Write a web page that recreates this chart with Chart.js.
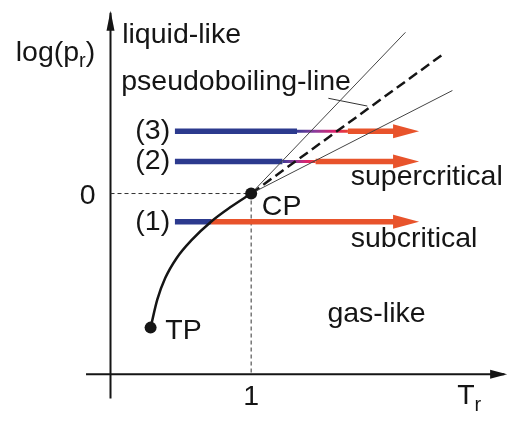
<!DOCTYPE html>
<html>
<head>
<meta charset="utf-8">
<script src="https://cdn.jsdelivr.net/npm/chart.js@4.4.1/dist/chart.umd.min.js"></script>
<style>
  html, body { margin: 0; padding: 0; background: #fff; }
  #phase { display: block; }
</style>
</head>
<body>
<canvas id="phase" width="515" height="423"></canvas>
<script>
// x = reduced temperature T_r, y = log(p_r)
const triplePoint = [0.285, -0.742];
const criticalPoint = [1, 0];

// vapour pressure curve, TP -> CP
const curveT = [0.285, 0.333, 0.389, 0.472, 0.576, 0.715, 0.854, 1.0];
const curveP = [-0.742, -0.586, -0.468, -0.355, -0.258, -0.156, -0.075, 0];

// lines leaving CP (end points)
const upperLineEnd = [2.097, 0.892];
const pseudoboilingEnd = [2.361, 0.769];
const lowerLineEnd = [2.431, 0.570];
const pointerT = [1.549, 1.826];
const pointerP = [0.527, 0.484];

// isobaric paths (1), (2), (3)
const pathNames = ['(1)', '(2)', '(3)'];
const pathP = [-0.156, 0.177, 0.344];
const pathStart = [0.458, 0.458, 0.458];
const pathBlueEnd = [0.715, 1.222, 1.326];
const pathBlendEnd = [0.715, 1.458, 1.688];
const pathTip = [2.194, 2.194, 2.194];

const xTicks = [1];
const yTicks = [0];

const BLUE = '#2c3a8e';
const ORANGE = '#e8532b';
const INK = '#151515';
const FONT = '"Liberation Sans", Arial, Helvetica, sans-serif';
const ARROW_LEN = 0.175; // arrow head length in T_r units

const pt = (x, y) => ({ x, y });

function blendStroke(i) {
  return (ctx) => {
    const x = ctx.chart.scales.x;
    if (!x || !ctx.chart.chartArea) return BLUE;
    const x0 = x.getPixelForValue(pathBlueEnd[i]);
    const x1 = x.getPixelForValue(pathBlendEnd[i]);
    const g = ctx.chart.ctx.createLinearGradient(x0, 0, x1, 0);
    g.addColorStop(0, '#3a3a95');
    g.addColorStop(0.35, '#8a3c9c');
    g.addColorStop(0.75, '#e0236b');
    g.addColorStop(1, '#e8402f');
    return g;
  };
}

const datasets = [];

// critical / triple points
datasets.push({
  data: [pt(...criticalPoint), pt(...triplePoint)],
  showLine: false, pointRadius: 6, pointBackgroundColor: INK, pointBorderWidth: 0, order: 0
});

// vapour pressure curve
datasets.push({
  data: curveT.map((t, i) => pt(t, curveP[i])),
  borderColor: INK, borderWidth: 2.5, cubicInterpolationMode: 'monotone', order: 1
});

// thin fan lines and pseudoboiling line
datasets.push({ data: [pt(...criticalPoint), pt(...upperLineEnd)], borderColor: '#444', borderWidth: 1, order: 1 });
datasets.push({ data: [pt(...criticalPoint), pt(...lowerLineEnd)], borderColor: '#444', borderWidth: 1, order: 1 });
datasets.push({ data: [pt(...criticalPoint), pt(...pseudoboilingEnd)], borderColor: INK, borderWidth: 2.5, borderDash: [10, 5], order: 1 });
datasets.push({ data: pointerT.map((t, i) => pt(t, pointerP[i])), borderColor: '#333', borderWidth: 1, order: 1 });

// isobaric paths
pathP.forEach((p, i) => {
  datasets.push({ data: [pt(pathStart[i], p), pt(pathBlueEnd[i], p)], borderColor: BLUE, borderWidth: 5.5, order: 2 });
  if (pathBlendEnd[i] > pathBlueEnd[i]) {
    datasets.push({ data: [pt(pathBlueEnd[i], p), pt(pathBlendEnd[i], p)], borderColor: blendStroke(i), borderWidth: 3, order: 2 });
  }
  datasets.push({ data: [pt(pathBlendEnd[i], p), pt(pathTip[i] - ARROW_LEN, p)], borderColor: ORANGE, borderWidth: 5.5, order: 2 });
});

// dotted guides from CP to both axes
datasets.push({ data: [pt(0, 0), pt(...criticalPoint)], borderColor: '#333', borderWidth: 1, borderDash: [4, 3], order: 3 });
datasets.push({ data: [pt(...criticalPoint), pt(1, -1)], borderColor: '#333', borderWidth: 1, borderDash: [4, 3], order: 3 });

function arrowHead(c, tipX, tipY, len, half, dir, color) {
  c.save();
  c.fillStyle = color;
  c.beginPath();
  if (dir === 'right') {
    c.moveTo(tipX, tipY);
    c.lineTo(tipX - len, tipY - half);
    c.lineTo(tipX - len, tipY + half);
  } else {
    c.moveTo(tipX, tipY);
    c.lineTo(tipX - half, tipY + len);
    c.lineTo(tipX + half, tipY + len);
  }
  c.closePath();
  c.fill();
  c.restore();
}

const axesPlugin = {
  id: 'phaseAxes',
  beforeDatasetsDraw(chart) {
    const { ctx: c, scales: { x, y } } = chart;
    const x0 = x.getPixelForValue(0), y0 = y.getPixelForValue(-1);
    c.save();
    c.strokeStyle = INK;
    c.lineWidth = 2;
    c.beginPath();
    c.moveTo(x.getPixelForValue(-0.174), y0);
    c.lineTo(x.getPixelForValue(2.80), y0);
    c.moveTo(x0, y.getPixelForValue(-1.134));
    c.lineTo(x0, y.getPixelForValue(1.0));
    c.stroke();
    c.restore();
    arrowHead(c, x.getPixelForValue(2.82), y0, 17, 4.5, 'right', INK);
    arrowHead(c, x0, y.getPixelForValue(1.012), 20, 4, 'up', INK);
  },
  afterDatasetsDraw(chart) {
    const { ctx: c, scales: { x, y } } = chart;
    pathP.forEach((p, i) => {
      arrowHead(c, x.getPixelForValue(pathTip[i]), y.getPixelForValue(p), 26, 7, 'right', ORANGE);
    });
  }
};

// text runs: [text, size, baseline shift]
const labels = [
  { runs: [['liquid-like']], at: [0.083, 0.833] },
  { runs: [['pseudoboiling-line']], at: [0.076, 0.575] },
  { runs: [['supercritical']], at: [1.708, 0.048] },
  { runs: [['subcritical']], at: [1.708, -0.296] },
  { runs: [['gas-like']], at: [1.542, -0.710] },
  { runs: [['CP']], at: [1.076, -0.118] },
  { runs: [['TP']], at: [0.389, -0.806] },
  { runs: [['log(p'], ['r', 20, 6], [')']], at: [-0.674, 0.731] },
  { runs: [['T'], ['r', 20, 7]], at: [2.465, -1.167] },
  ...pathNames.map((n, i) => ({ runs: [[n]], at: [0.424, pathP[i]], align: 'right', middle: true }))
];

const labelPlugin = {
  id: 'phaseLabels',
  afterDraw(chart) {
    const { ctx: c, scales: { x, y } } = chart;
    c.save();
    c.fillStyle = INK;
    const run = (l, px, py) => {
      c.textBaseline = l.middle ? 'middle' : 'alphabetic';
      let w = 0;
      l.runs.forEach(([t, s = 28.5]) => { c.font = s + 'px ' + FONT; w += c.measureText(t).width; });
      let cx = l.align === 'right' ? px - w : l.align === 'center' ? px - w / 2 : px;
      l.runs.forEach(([t, s = 28.5, dy = 0]) => {
        c.font = s + 'px ' + FONT;
        c.textAlign = 'left';
        c.fillText(t, cx, py + dy);
        cx += c.measureText(t).width;
      });
    };
    labels.forEach(l => run(l, x.getPixelForValue(l.at[0]), y.getPixelForValue(l.at[1])));
    // tick labels
    xTicks.forEach(v => run({ runs: [[String(v)]], align: 'center' }, x.getPixelForValue(v), y.getPixelForValue(-1) + 31));
    yTicks.forEach(v => run({ runs: [[String(v)]], align: 'right' }, x.getPixelForValue(0) - 15, y.getPixelForValue(v) + 10));
    c.restore();
  }
};

new Chart(document.getElementById('phase'), {
  type: 'line',
  data: { datasets },
  options: {
    responsive: false,
    animation: false,
    events: [],
    layout: { padding: 0 },
    plugins: { legend: { display: false }, tooltip: { enabled: false } },
    elements: { point: { radius: 0 }, line: { borderCapStyle: 'butt' } },
    scales: {
      x: { type: 'linear', display: false, min: -107 / 144, max: 408 / 144 },
      y: { type: 'linear', display: false, min: -230 / 186, max: 193 / 186 }
    }
  },
  plugins: [axesPlugin, labelPlugin]
});
</script>
</body>
</html>
